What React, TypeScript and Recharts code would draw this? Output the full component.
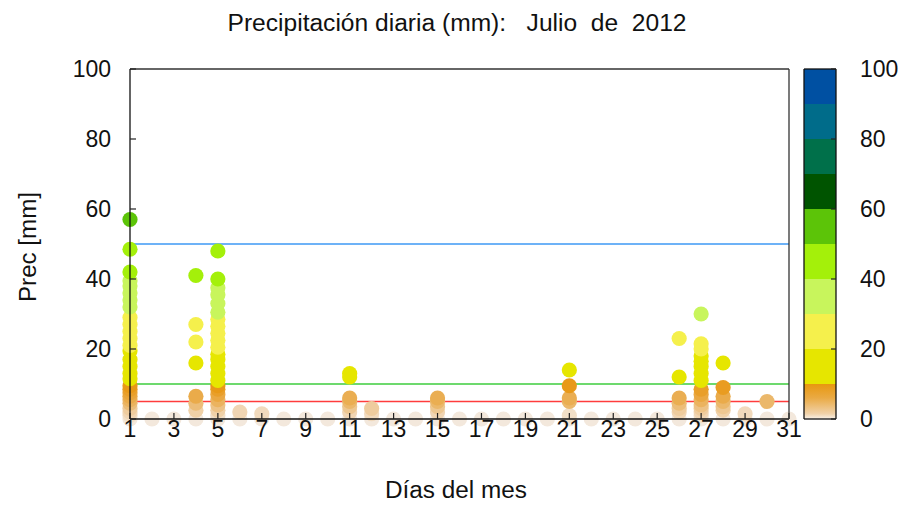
import React from "react";
import {
  ScatterChart,
  Scatter,
  XAxis,
  YAxis,
  ReferenceLine,
  BarChart,
  Bar,
} from "recharts";

// ---------- data ----------
const days = [
  1, 2, 3, 4, 5, 6, 7, 8, 9, 10, 11, 12, 13, 14, 15, 16, 17, 18, 19, 20, 21,
  22, 23, 24, 25, 26, 27, 28, 29, 30, 31,
];

const stationValues: number[][] = [
  [0, 1, 2, 3, 4.5, 5.5, 6.5, 7.5, 8.5, 9.5, 11.5, 13, 15, 17, 19.5, 21, 23, 25, 27, 29, 32, 34, 36, 38, 39.5, 42, 48.5, 57],
  [0],
  [0],
  [0, 2.5, 4.5, 6.5, 16, 22, 27, 41],
  [0, 1, 2.5, 4, 5.5, 7, 8.5, 9.5, 11, 13, 15, 17, 18.5, 20.5, 22.5, 24.5, 26.5, 28.5, 30.5, 33, 35.5, 37.5, 40, 48],
  [0, 2],
  [0, 1.5],
  [0],
  [0],
  [0],
  [0, 2, 3.5, 5, 6, 12, 13],
  [0, 1.5, 3],
  [0],
  [0],
  [0, 2, 3.5, 5, 6],
  [0],
  [0],
  [0],
  [0],
  [0],
  [0, 1, 5, 6, 9.5, 14],
  [0],
  [0],
  [0],
  [0],
  [0, 2, 3, 4.5, 6, 12, 23],
  [0, 1, 2, 3, 4, 5.5, 7, 8.5, 11, 13, 15, 16.5, 18, 20, 21.5, 30],
  [0, 2.5, 3.5, 5, 6.5, 9, 16],
  [0, 1.5],
  [0, 5],
  [0],
];

const xTicks = [1, 3, 5, 7, 9, 11, 13, 15, 17, 19, 21, 23, 25, 27, 29, 31];
const yTicks = [0, 20, 40, 60, 80, 100];
const thresholdLines = [50, 10, 5];
const thresholdColors = ["#3d98f5", "#3ccc3c", "#ff3c3c"];

const bandEdges = [0, 10, 20, 30, 40, 50, 60, 70, 80, 90, 100];
const bandColors = [
  "url(#cbgrad)",
  "#e6e600",
  "#f5f04c",
  "#c8f55c",
  "#a4f00a",
  "#5cc408",
  "#005400",
  "#00704a",
  "#006c8a",
  "#0050a2",
];

// low band (0-10) colour stops
const lowStops: [number, number[]][] = [
  [0, [243, 232, 220]],
  [3, [238, 204, 158]],
  [6, [234, 174, 82]],
  [10, [232, 150, 16]],
];

const FONT = "'Liberation Sans', Arial, sans-serif";

function colorFor(v: number): string {
  if (v >= 10) {
    const i = Math.min(9, Math.floor(v / 10));
    return bandColors[i];
  }
  for (let i = 0; i < lowStops.length - 1; i++) {
    const [a, ca] = lowStops[i];
    const [b, cb] = lowStops[i + 1];
    if (v >= a && v <= b) {
      const t = (v - a) / (b - a);
      const c = ca.map((x, k) => Math.round(x + (cb[k] - x) * t));
      return `rgb(${c[0]},${c[1]},${c[2]})`;
    }
  }
  return "rgb(232,150,16)";
}

const points = days
  .flatMap((d, i) => stationValues[i].map((v) => ({ d, v })))
  .sort((a, b) => a.v - b.v);

const cbRow: Record<string, number | string> = { name: "cb" };
bandColors.forEach((_, i) => {
  cbRow["b" + i] = bandEdges[i + 1] - bandEdges[i];
});
const cbData = [cbRow];
const cbFrameData = [
  { x: 0, y: 0 },
  { x: 1, y: 100 },
];

const Dot = (props: any) => {
  const { cx, cy, payload } = props;
  if (cx == null || cy == null) return null;
  return <circle cx={cx} cy={cy} r={7.6} fill={colorFor(payload.v)} />;
};
const NoDot = () => <g />;

const tickStyle = { fontSize: 23, fill: "#111", fontFamily: FONT };
const lineStyle = { stroke: "#111", strokeWidth: 1.3 };
const tickLineStyle = { stroke: "#222", strokeWidth: 1.2 };
const layer: React.CSSProperties = { position: "absolute", left: 0, top: 0 };

export default function App() {
  return (
    <div style={{ position: "absolute", left: 0, top: 0, width: 905, height: 506, background: "#fff" }}>
      {/* points layer */}
      <div style={layer}>
        <ScatterChart
          width={905}
          height={506}
          margin={{ top: 69, right: 116, bottom: 87, left: 130 }}
        >
          <XAxis xAxisId={0} dataKey="d" type="number" domain={[1, 31]} hide />
          <YAxis yAxisId={0} dataKey="v" type="number" domain={[0, 100]} hide />
          {thresholdLines.map((y, i) => (
            <ReferenceLine
              key={y}
              xAxisId={0}
              yAxisId={0}
              y={y}
              stroke={thresholdColors[i]}
              strokeWidth={1.4}
            />
          ))}
          <Scatter
            xAxisId={0}
            yAxisId={0}
            data={points}
            shape={<Dot />}
            isAnimationActive={false}
          />
        </ScatterChart>
      </div>

      {/* colour bar layer */}
      <div style={layer}>
        <BarChart
          width={905}
          height={506}
          data={cbData}
          margin={{ top: 69, right: 69, bottom: 87, left: 804 }}
          barCategoryGap={0}
          barGap={0}
        >
          <defs>
            <linearGradient id="cbgrad" x1="0" y1="0" x2="0" y2="1">
              <stop offset="0%" stopColor="#e8980f" />
              <stop offset="40%" stopColor="#eaaa44" />
              <stop offset="85%" stopColor="#f0d2aa" />
              <stop offset="100%" stopColor="#f8f2ea" />
            </linearGradient>
          </defs>
          <XAxis xAxisId={0} dataKey="name" hide />
          <YAxis yAxisId={0} type="number" domain={[0, 100]} hide />
          {bandColors.map((c, i) => (
            <Bar
              key={i}
              xAxisId={0}
              yAxisId={0}
              dataKey={"b" + i}
              stackId="cb"
              fill={c}
              isAnimationActive={false}
            />
          ))}
        </BarChart>
      </div>

      {/* main frame / axes layer */}
      <div style={layer}>
        <ScatterChart
          width={905}
          height={506}
          margin={{ top: 68, right: 115, bottom: 57, left: 70 }}
        >
          <XAxis
            xAxisId={0}
            dataKey="d"
            type="number"
            domain={[1, 31]}
            ticks={xTicks}
            interval={0}
            height={30}
            tickSize={-6}
            tickMargin={8}
            tickLine={tickLineStyle}
            axisLine={lineStyle}
            tick={tickStyle}
          />
          <XAxis
            xAxisId="t"
            orientation="top"
            dataKey="d"
            type="number"
            domain={[1, 31]}
            ticks={xTicks}
            interval={0}
            height={1}
            tickSize={-6}
            tickLine={tickLineStyle}
            axisLine={{ stroke: "#333", strokeWidth: 1.3 }}
            tick={false}
          />
          <YAxis
            yAxisId={0}
            dataKey="v"
            type="number"
            domain={[0, 100]}
            ticks={yTicks}
            interval={0}
            width={60}
            tickSize={-6}
            tickMargin={25}
            tickLine={tickLineStyle}
            axisLine={lineStyle}
            tick={tickStyle}
          />
          <YAxis
            yAxisId="r"
            orientation="right"
            dataKey="v"
            type="number"
            domain={[0, 100]}
            ticks={yTicks}
            interval={0}
            width={1}
            tickSize={-6}
            tickLine={tickLineStyle}
            axisLine={{ stroke: "#333", strokeWidth: 1.3 }}
            tick={false}
          />
          <Scatter
            xAxisId={0}
            yAxisId={0}
            data={points}
            shape={<NoDot />}
            isAnimationActive={false}
          />
          <Scatter
            xAxisId="t"
            yAxisId="r"
            data={points}
            shape={<NoDot />}
            isAnimationActive={false}
          />
        </ScatterChart>
      </div>

      {/* colour bar frame layer */}
      <div style={layer}>
        <ScatterChart
          width={905}
          height={506}
          margin={{ top: 68, right: 0, bottom: 86, left: 803 }}
        >
          <XAxis
            xAxisId={0}
            dataKey="x"
            type="number"
            domain={[0, 1]}
            height={1}
            tickSize={0}
            tickLine={false}
            axisLine={lineStyle}
            tick={false}
          />
          <XAxis
            xAxisId="t"
            orientation="top"
            dataKey="x"
            type="number"
            domain={[0, 1]}
            height={1}
            tickSize={0}
            tickLine={false}
            axisLine={lineStyle}
            tick={false}
          />
          <YAxis
            yAxisId="l"
            dataKey="y"
            type="number"
            domain={[0, 100]}
            ticks={yTicks}
            interval={0}
            width={1}
            tickSize={-5}
            tickLine={tickLineStyle}
            axisLine={lineStyle}
            tick={false}
          />
          <YAxis
            yAxisId={0}
            dataKey="y"
            orientation="right"
            type="number"
            domain={[0, 100]}
            ticks={yTicks}
            interval={0}
            width={69}
            tickSize={-5}
            tickMargin={29}
            tickLine={tickLineStyle}
            axisLine={lineStyle}
            tick={tickStyle}
          />
          <Scatter
            xAxisId={0}
            yAxisId={0}
            data={cbFrameData}
            shape={<NoDot />}
            isAnimationActive={false}
          />
          <Scatter
            xAxisId="t"
            yAxisId="l"
            data={cbFrameData}
            shape={<NoDot />}
            isAnimationActive={false}
          />
        </ScatterChart>
      </div>

      <svg
        width={905}
        height={506}
        style={{ position: "absolute", left: 0, top: 0, pointerEvents: "none" }}
      >
        <text
          x={457}
          y={31}
          textAnchor="middle"
          fontFamily={FONT}
          fontSize={23}
          fill="#111"
          textLength={459}
          lengthAdjust="spacingAndGlyphs"
          style={{ whiteSpace: "pre" }}
        >
          {"Precipitación diaria (mm):   Julio  de  2012"}
        </text>
        <text
          x={0}
          y={0}
          transform="translate(36,247) rotate(-90)"
          textAnchor="middle"
          fontFamily={FONT}
          fontSize={23}
          fill="#111"
          textLength={110}
          lengthAdjust="spacingAndGlyphs"
        >
          Prec [mm]
        </text>
        <text
          x={456}
          y={498}
          textAnchor="middle"
          fontFamily={FONT}
          fontSize={23}
          fill="#111"
          textLength={142}
          lengthAdjust="spacingAndGlyphs"
        >
          Días del mes
        </text>
      </svg>
    </div>
  );
}
